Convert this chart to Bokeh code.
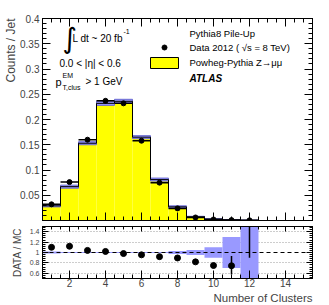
import numpy as np
from bokeh.plotting import figure
from bokeh.layouts import column
from bokeh.models import FixedTicker, LinearAxis, Label, CustomJSTickFormatter, Span
from bokeh.embed import file_html
from bokeh.resources import INLINE

# ---------------- data ----------------
bins = [1, 2, 3, 4, 5, 6, 7, 8, 9, 10, 11, 12]
mc = [0.029, 0.067, 0.153, 0.232, 0.236, 0.165, 0.081, 0.027, 0.0073, 0.0027, 0.0011, 0.0003]
mc_err = [0.002, 0.003, 0.003, 0.004, 0.004, 0.003, 0.003, 0.002, 0.001, 0.001, 0.0008, 0.0005]
data = [0.032, 0.076, 0.160, 0.237, 0.232, 0.158, 0.075, 0.024, 0.006, 0.002, 0.0008, 0.0003]

ratio_bins = [1, 2, 3, 4, 5, 6, 7, 8, 9, 10, 11]
ratio = [1.10, 1.12, 1.04, 1.02, 0.98, 0.955, 0.92, 0.895, 0.82, 0.75, 0.745]
err_bins = [11, 12]
err_lo = [0.575, 0.90]
err_hi = [0.935, 1.60]
band = [0.02, 0.01, 0.01, 0.01, 0.01, 0.01, 0.012, 0.03, 0.05, 0.10, 0.30, 1.0]

x_ticks = [2, 4, 6, 8, 10, 12, 14]
y_ticks = [0.05, 0.1, 0.15, 0.2, 0.25, 0.3, 0.35, 0.4]
r_ticks = [0.6, 0.8, 1, 1.2, 1.4]

FONT = "Liberation Sans"
X0, X1 = 0.5, 15.5

# pixel helpers for placing annotation text (main frame: x 42..312, y 18..220)
def dx(px):
    return X0 + (px - 42) / 18.0

def dy1(py):
    return (220 - py) / 505.0

fmt = CustomJSTickFormatter(code="return String(Math.round(tick*1000)/1000);")

x_minor = list(np.arange(0.5, 15.51, 0.5))
y_minor = list(np.arange(0.0, 0.401, 0.01))
r_minor = list(np.arange(0.48, 1.52, 0.04))


def style_axis(ax, show_labels, fsize="10px"):
    ax.major_tick_in = 8
    ax.major_tick_out = 0
    ax.minor_tick_in = 4
    ax.minor_tick_out = 0
    ax.axis_line_color = "black"
    ax.major_tick_line_color = "black"
    ax.minor_tick_line_color = "black"
    ax.major_label_text_font = FONT
    if show_labels:
        ax.major_label_text_font_size = fsize
        ax.major_label_standoff = 3
    else:
        ax.major_label_text_font_size = "0px"
        ax.major_label_standoff = 0
        ax.major_label_text_color = None


# ---------------- main panel ----------------
p1 = figure(frame_width=270, frame_height=202, x_range=(X0, X1), y_range=(0, 0.4),
            output_backend="svg", toolbar_location=None,
            title="Counts / Jet", title_location="left",
            min_border_left=42, min_border_right=9, min_border_top=18, min_border_bottom=4,
            background_fill_color="white", border_fill_color="white")
p1.title.align = "right"
p1.title.text_font = FONT
p1.title.text_font_size = "12px"
p1.title.text_font_style = "normal"
p1.title.standoff = 0
p1.grid.visible = False
p1.outline_line_color = "black"

p1.xaxis.ticker = FixedTicker(ticks=x_ticks, minor_ticks=x_minor)
p1.yaxis.ticker = FixedTicker(ticks=y_ticks, minor_ticks=y_minor)
p1.yaxis.formatter = fmt
style_axis(p1.xaxis[0], False)
style_axis(p1.yaxis[0], True, "10px")

top1 = LinearAxis(ticker=FixedTicker(ticks=x_ticks, minor_ticks=x_minor))
style_axis(top1, False)
p1.add_layout(top1, "above")
right1 = LinearAxis(ticker=FixedTicker(ticks=y_ticks, minor_ticks=y_minor))
style_axis(right1, False)
p1.add_layout(right1, "right")

left = [b - 0.5 for b in bins]
right = [b + 0.5 for b in bins]
p1.quad(left=left, right=right, bottom=0, top=mc, fill_color="#ffff00", line_color=None)
p1.quad(left=left, right=right,
        bottom=[m - e for m, e in zip(mc, mc_err)], top=[m + e for m, e in zip(mc, mc_err)],
        fill_color="#9999ff", line_color="#6a6ad0", line_width=1)
edges = left + [right[-1]]
p1.step(edges, mc + [0], mode="after", line_color="black", line_width=1)
p1.segment(x0=left, x1=right, y0=data, y1=data, line_color="black", line_width=1.5)
p1.scatter(bins, data, size=5, color="black")


def lab(p, x, y, text, size="10px", align="left", style="normal", font=FONT):
    p.add_layout(Label(x=x, y=y, text=text, text_font=font, text_font_size=size,
                       text_align=align, text_baseline="middle", text_font_style=style,
                       text_color="black"))

lab(p1, dx(62), dy1(38), "\u222b", size="28px", font="DejaVu Sans")
lab(p1, dx(72), dy1(38), "L dt ~ 20 fb")
lab(p1, dx(123), dy1(31), "-1", size="7px")
lab(p1, dx(59), dy1(63), "0.0 < |\u03b7| < 0.6")
lab(p1, dx(55), dy1(81), "p", size="11px")
lab(p1, dx(62), dy1(75), "EM", size="7px")
lab(p1, dx(62), dy1(87), "T,clus", size="7px")
lab(p1, dx(85), dy1(81), "> 1 GeV")

lab(p1, dx(189), dy1(33), "Pythia8 Pile-Up", size="9.5px")
p1.scatter([dx(164)], [dy1(47)], size=5, color="black")
lab(p1, dx(189), dy1(47), "Data 2012 ( \u221as = 8 TeV)", size="9.5px")
p1.quad(left=[dx(150)], right=[dx(178)], bottom=[dy1(68)], top=[dy1(57)],
        fill_color="#ffff00", line_color="black", line_width=1)
lab(p1, dx(189), dy1(62), "Powheg-Pythia Z\u2192\u03bc\u03bc", size="9.5px")
lab(p1, dx(189), dy1(78), "ATLAS", size="10px", style="bold italic")

# ---------------- ratio panel ----------------
p2 = figure(frame_width=270, frame_height=52, x_range=p1.x_range, y_range=(0.5, 1.5),
            output_backend="svg", toolbar_location=None,
            title="Number of Clusters", title_location="below",
            min_border_left=42, min_border_right=9, min_border_top=2, min_border_bottom=22,
            background_fill_color="white", border_fill_color="white")
p2.title.align = "right"
p2.title.text_font = FONT
p2.title.text_font_size = "11.5px"
p2.title.text_font_style = "normal"
p2.title.standoff = 0
p2.xgrid.visible = False
p2.outline_line_color = "black"
p2.xaxis.ticker = FixedTicker(ticks=x_ticks, minor_ticks=x_minor)
p2.yaxis.ticker = FixedTicker(ticks=r_ticks, minor_ticks=r_minor)
p2.yaxis.formatter = fmt
style_axis(p2.xaxis[0], True, "10px")
style_axis(p2.yaxis[0], True, "7px")
p2.xaxis.major_label_standoff = 0
p2.yaxis.major_tick_in = 6
p2.yaxis.minor_tick_in = 3
p2.yaxis.axis_label = "DATA / MC"
p2.yaxis.axis_label_text_font = FONT
p2.yaxis.axis_label_text_font_size = "10px"
p2.yaxis.axis_label_text_font_style = "normal"
p2.yaxis.axis_label_standoff = 4
p2.ygrid.ticker = FixedTicker(ticks=[0.6, 0.8, 1.2, 1.4])
p2.ygrid.grid_line_color = "#9a9a9a"
p2.ygrid.grid_line_dash = "1 2"
p2.ygrid.grid_line_width = 1

top2 = LinearAxis(ticker=FixedTicker(ticks=x_ticks, minor_ticks=x_minor))
style_axis(top2, False)
top2.major_tick_in = 5
top2.minor_tick_in = 3
p2.add_layout(top2, "above")
right2 = LinearAxis(ticker=FixedTicker(ticks=r_ticks, minor_ticks=r_minor))
style_axis(right2, False)
right2.major_tick_in = 6
right2.minor_tick_in = 3
p2.add_layout(right2, "right")

p2.quad(left=left, right=right, bottom=[1 - b for b in band], top=[1 + b for b in band],
        fill_color="#9999ff", line_color=None)
p2.add_layout(Span(location=1, dimension="width", line_color="black",
                   line_dash="4 3", line_width=1))
p2.segment(x0=err_bins, x1=err_bins, y0=err_lo, y1=err_hi, line_color="black", line_width=1.5)
p2.scatter(ratio_bins, ratio, size=6, color="black")

layout = column(p1, p2, spacing=0)
open("out.html", "w").write(file_html(layout, INLINE))
